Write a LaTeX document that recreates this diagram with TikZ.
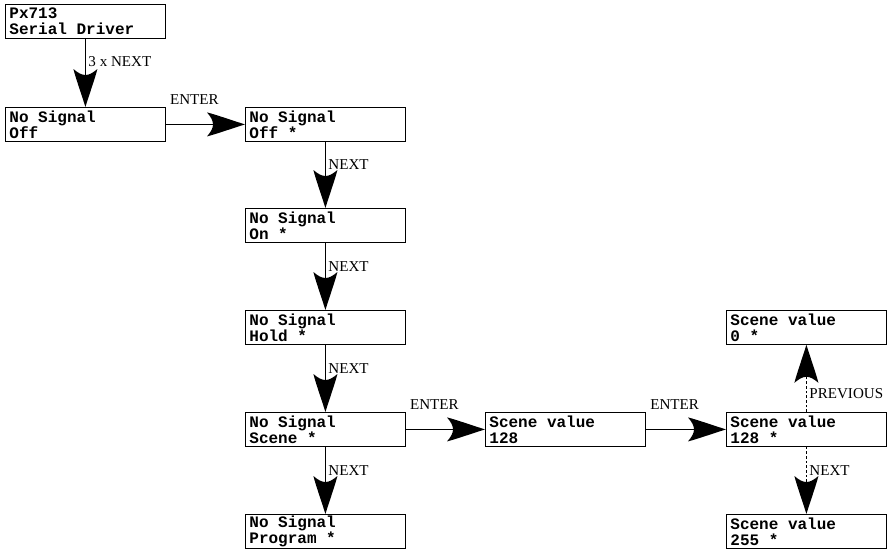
\documentclass[tikz,border=0pt]{standalone}
\usepackage{fontspec}
\setmainfont{Liberation Serif}
\setmonofont{Liberation Mono}
\usetikzlibrary{arrows.meta}
\pgfdeclarearrow{
  name = menuTip,
  setup code = {
    \pgfarrowssettipend{0pt}
    \pgfarrowssetbackend{-28.5pt}
    \pgfarrowssetlineend{-23pt}
    \pgfarrowshullpoint{0pt}{0pt}
    \pgfarrowshullpoint{-28.5pt}{9pt}
    \pgfarrowshullpoint{-28.5pt}{-9pt}
  },
  drawing code = {
    \pgfpathmoveto{\pgfpointorigin}
    \pgfpathcurveto{\pgfpoint{-10pt}{3.1pt}}{\pgfpoint{-22pt}{7.4pt}}{\pgfpoint{-28.5pt}{9pt}}
    \pgfpathcurveto{\pgfpoint{-25.5pt}{5.5pt}}{\pgfpoint{-24pt}{2.8pt}}{\pgfpoint{-24pt}{0pt}}
    \pgfpathcurveto{\pgfpoint{-24pt}{-2.8pt}}{\pgfpoint{-25.5pt}{-5.5pt}}{\pgfpoint{-28.5pt}{-9pt}}
    \pgfpathcurveto{\pgfpoint{-22pt}{-7.4pt}}{\pgfpoint{-10pt}{-3.1pt}}{\pgfpointorigin}
    \pgfpathclose
    \pgfusepathqfill
  }
}
\tikzstyle{menuBox} = [draw, line width=.6pt, anchor=north west, minimum width=120pt, minimum height=25.5pt, text width=114pt, inner xsep=2pt, inner ysep=1pt, align=left, font=\ttfamily\bfseries\fontsize{12}{12}\selectfont]
\tikzstyle{stepArrow} = [line width=.6pt, -{menuTip}]
\tikzstyle{stepDashed} = [stepArrow, dash pattern=on 2pt off 1.5pt]
\tikzstyle{stepLabel} = [font=\fontsize{11.3}{13}\selectfont, inner sep=2pt]
\newcommand{\menuBox}[5]{\node [menuBox] (#1) at (#2,#3) {\spaceskip=.6em\relax #4\\#5};}
\newcommand{\nextStep}[4]{\draw [#1] (#2) -- node [stepLabel, right, pos=#4] {NEXT} (#3);}
\newcommand{\enterStep}[2]{\draw [stepArrow] (#1) -- node [stepLabel, above=13pt, pos=.36] {ENTER} (#2);}
\begin{document}
\begin{tikzpicture}[x=.75pt, y=-.75pt]
  \useasboundingbox (0,0) rectangle (892,550);
  \menuBox{driver}{5}{4}{Px713}{Serial Driver}
  \menuBox{offStart}{5}{107}{No Signal}{Off}
  \menuBox{off}{245}{107}{No Signal}{Off *}
  \menuBox{on}{245}{208}{No Signal}{On *}
  \menuBox{hold}{245}{310}{No Signal}{Hold *}
  \menuBox{scene}{245}{412}{No Signal}{Scene *}
  \menuBox{program}{245}{514}{No Signal}{Program *}
  \menuBox{value}{485}{412}{Scene value}{128}
  \menuBox{valueSet}{726}{412}{Scene value}{128 *}
  \menuBox{valueLow}{726}{310}{Scene value}{0 *}
  \menuBox{valueHigh}{726}{514}{Scene value}{255 *}

  \draw [stepArrow] (driver) -- node [stepLabel, right, pos=.33] {3 x NEXT} (offStart);
  \enterStep{offStart}{off}
  \nextStep{stepArrow}{off}{on}{.35}
  \nextStep{stepArrow}{on}{hold}{.35}
  \nextStep{stepArrow}{hold}{scene}{.35}
  \nextStep{stepArrow}{scene}{program}{.35}
  \enterStep{scene}{value}
  \enterStep{value}{valueSet}
  \draw [stepDashed] (valueSet) -- node [stepLabel, right, pos=.27] {PREVIOUS} (valueLow);
  \nextStep{stepDashed}{valueSet}{valueHigh}{.35}
\end{tikzpicture}
\end{document}
